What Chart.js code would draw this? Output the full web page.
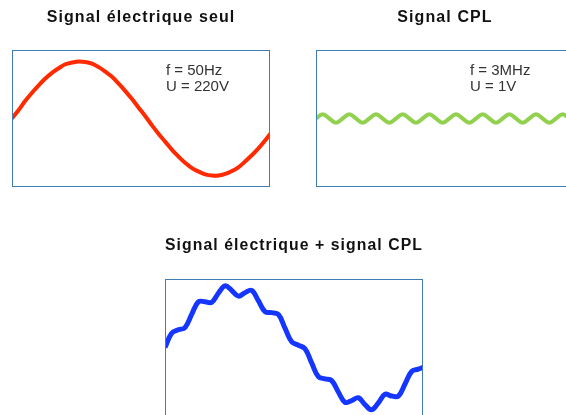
<!DOCTYPE html>
<html lang="fr">
<head>
<meta charset="utf-8">
<title>Signal électrique et signal CPL</title>
<script src="https://cdn.jsdelivr.net/npm/chart.js@4.4.1/dist/chart.umd.min.js"></script>
<style>
  html, body { margin: 0; width: 566px; height: 415px; overflow: hidden; background: #fff; }
  canvas { position: absolute; }
</style>
</head>
<body>
<canvas id="secteur" width="283" height="200" style="left:0;top:0"></canvas>
<canvas id="cpl" width="283" height="200" style="left:304px;top:0"></canvas>
<canvas id="somme" width="283" height="201" style="left:153px;top:228px"></canvas>
<script>
// temps en quarts de période du signal CPL
const temps = [0, 1, 2, 3, 4, 5, 6, 7, 8, 9, 10, 11, 12, 13, 14, 15, 16, 17, 18, 19,
  20, 21, 22, 23, 24, 25, 26, 27, 28, 29, 30, 31, 32, 33, 34, 35, 36, 37, 38, 39];

// amplitudes relatives (1 = crête du secteur)
const signalSecteur = [0, 0.15, 0.31, 0.45, 0.58, 0.70, 0.80, 0.88, 0.95, 0.98,
  1.00, 0.99, 0.96, 0.90, 0.82, 0.73, 0.61, 0.48, 0.34, 0.19,
  0.04, -0.12, -0.27, -0.41, -0.55, -0.67, -0.78, -0.87, -0.93, -0.98,
  -1.00, -1.00, -0.97, -0.92, -0.85, -0.75, -0.64, -0.52, -0.38, -0.23];

const signalCpl = [0, 0.075, 0, -0.075, 0, 0.075, 0, -0.075, 0, 0.075,
  0, -0.075, 0, 0.075, 0, -0.075, 0, 0.075, 0, -0.075,
  0, 0.075, 0, -0.075, 0, 0.075, 0, -0.075, 0, 0.075,
  0, -0.075, 0, 0.075, 0, -0.075, 0, 0.075, 0, -0.075];

const signalSomme = [0, 0.25, 0.31, 0.35, 0.58, 0.80, 0.80, 0.79, 0.95, 1.08,
  1.00, 0.90, 0.96, 1.00, 0.82, 0.63, 0.61, 0.58, 0.34, 0.10,
  0.04, -0.02, -0.27, -0.51, -0.55, -0.58, -0.78, -0.96, -0.93, -0.88,
  -1.00, -1.09, -0.97, -0.82, -0.85, -0.85, -0.64, -0.42, -0.38, -0.33];

const titres = ["Signal électrique seul", "Signal CPL", "Signal électrique + signal CPL"];
const notesSecteur = ["f = 50Hz", "U = 220V"];
const notesCpl = ["f = 3MHz", "U = 1V"];

// cadre bleu autour de la zone de tracé
const cadre = {
  id: "cadre",
  afterDatasetsDraw(chart) {
    const { ctx, chartArea: a } = chart;
    ctx.save();
    ctx.strokeStyle = "#3f7bb5";
    ctx.lineWidth = 1;
    ctx.strokeRect(a.left + 0.5, a.top + 0.5, a.right - a.left - 1, a.bottom - a.top - 1);
    ctx.restore();
  }
};

// texte f / U en haut à droite du cadre
const notes = {
  id: "notes",
  afterDraw(chart, args, opts) {
    if (!opts.lignes) return;
    const { ctx, chartArea: a } = chart;
    ctx.save();
    ctx.letterSpacing = "0px";
    ctx.font = "15px Arial, 'Liberation Sans', sans-serif";
    ctx.fillStyle = "#333";
    ctx.textBaseline = "alphabetic";
    opts.lignes.forEach((l, i) => ctx.fillText(l, a.left + opts.x, a.top + opts.y + i * 16.5));
    ctx.restore();
  }
};

// titres un peu espacés
const espacement = {
  id: "espacement",
  beforeDraw(chart) { chart.ctx.letterSpacing = "1.1px"; },
  beforeDatasetsDraw(chart) { chart.ctx.letterSpacing = "0px"; }
};

function graphique(id, titre, valeurs, couleur, epaisseur, lignes, basTitre) {
  new Chart(document.getElementById(id), {
    type: "line",
    data: {
      labels: temps,
      datasets: [{
        data: valeurs,
        borderColor: couleur,
        borderWidth: epaisseur,
        pointRadius: 0,
        tension: 0.4,
        fill: false
      }]
    },
    options: {
      responsive: false,
      animation: false,
      events: [],
      layout: { padding: { left: 12, right: 13, top: 0, bottom: 13 } },
      scales: {
        x: { type: "linear", display: false, min: 0, max: 38.7 },
        y: { display: false, min: -1.2, max: 1.2 }
      },
      plugins: {
        legend: { display: false },
        tooltip: { enabled: false },
        title: {
          display: true,
          text: titre,
          color: "#111",
          font: { family: "Arial, 'Liberation Sans', sans-serif", size: 16, weight: "bold" },
          padding: { top: 7.5, bottom: basTitre }
        },
        notes: { lignes: lignes, x: 154, y: 24.5 }
      }
    },
    plugins: [cadre, notes, espacement]
  });
}

graphique("secteur", titres[0], signalSecteur, "#ff2a00", 4, notesSecteur, 23.3);
graphique("cpl", titres[1], signalCpl, "#92d050", 4, notesCpl, 23.3);
graphique("somme", titres[2], signalSomme, "#1436ff", 5, null, 24.3);
</script>
</body>
</html>
